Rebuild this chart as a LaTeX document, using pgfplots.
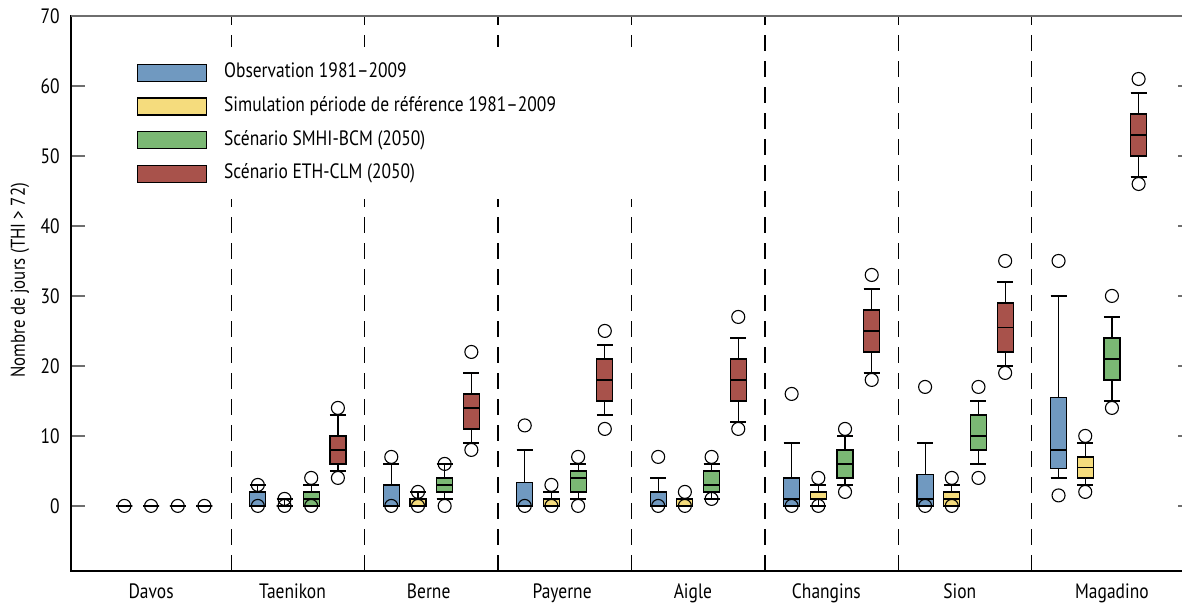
\documentclass[border=0pt]{standalone}
\usepackage{fontspec}
\setmainfont[FakeStretch=0.84]{PT Sans}
\usepackage{pgfplots}
\pgfplotsset{compat=1.18}
\usepgfplotslibrary{statistics}
\definecolor{obsc}{HTML}{7099C0}
\definecolor{simc}{HTML}{F5DC7D}
\definecolor{smhc}{HTML}{7BB874}
\definecolor{ethc}{HTML}{A8524B}
\definecolor{topc}{HTML}{6E6E6E}
\newcommand\myfont{\fontsize{10.4pt}{12pt}\selectfont}
\newcommand\bx[7]{\addplot[forget plot, fill=#1, draw=black, line width=0.6pt,
  boxplot/draw direction=y,
  boxplot prepared={draw position=#2, lower whisker=#3, lower quartile=#4, median=#5,
  upper quartile=#6, upper whisker=#7, box extend=0.6, whisker extend=0.6}] coordinates {};}
\begin{document}
\begin{tikzpicture}
\begin{axis}[name=ax, scale only axis, width=560.5pt, height=277.5pt,
  xmin=-2, xmax=40, ymin=-9.3, ymax=70,
  ytick={0,10,...,70}, ytick pos=both, tick align=inside, major tick length=7pt,
  tick style={line width=0.6pt, color=topc},
  xtick={1,6.3,11.4,16.4,21.3,26.3,31.3,37},
  xticklabels={Davos,Taenikon,Berne,Payerne,Aigle,Changins,Sion,Magadino},
  xtick style={draw=none},
  xticklabel style={anchor=base, yshift=-14pt},
  yticklabel style={anchor=east, inner sep=0pt, xshift=-5.5pt},
  /pgf/number format/assume math mode=true,
  tick label style={font=\myfont}, label style={font=\myfont},
  ylabel={Nombre de jours (THI > 72)},
  every axis y label/.style={at={(axis description cs:-0.0455,0.524)}, rotate=90, anchor=center},
  axis line style={line width=0.6pt},
  legend image code/.code={\draw[#1, line width=0.6pt] (0pt,-4.25pt) rectangle (34.5pt,4.25pt);},
  legend cell align=left,
  legend style={at={(axis cs:0.47,63.3)}, anchor=north west, draw=none, fill=none,
    inner sep=0pt, outer sep=0pt, font=\myfont, row sep=6.85pt,
    nodes={inner sep=0pt, text height=7.5pt, text depth=2.5pt},
    /tikz/every odd column/.append style={column sep=8.5pt}},
]
\pgfplotsinvokeforeach{4,9,14,19,24,29,34}{
  \draw[dash pattern=on 8pt off 5pt, line width=0.6pt] (axis cs:#1,-9.3) -- (axis cs:#1,70);
}
\fill[white] (axis cs:-0.2,43.9) rectangle (axis cs:19.6,65.6);
\draw[line width=0.9pt, topc] (axis cs:-2,70) -- (axis cs:40,70);

\addlegendimage{fill=obsc, draw=black}
\addlegendentry{Observation 1981–2009}
\addlegendimage{fill=simc, draw=black}
\addlegendentry{Simulation période de référence 1981–2009}
\addlegendimage{fill=smhc, draw=black}
\addlegendentry{Scénario SMHI-BCM (2050)}
\addlegendimage{fill=ethc, draw=black}
\addlegendentry{Scénario ETH-CLM (2050)}

% outlier circles
\addplot[forget plot, only marks, mark=o, mark size=3.25pt, black, mark options={line width=0.55pt}] coordinates {
 (0,0) (1,0) (2,0) (3,0)
 (5,0) (5,3) (6,0) (6,1) (7,0) (7,4) (8,4) (8,14)
 (10,0) (10,7) (11,0) (11,2) (12,0) (12,6) (13,8) (13,22)
 (15,0) (15,11.5) (16,0) (16,3) (17,0) (17,7) (18,11) (18,25)
 (20,0) (20,7) (21,0) (21,2) (22,1) (22,7) (23,11) (23,27)
 (25,0) (25,16) (26,0) (26,4) (27,2) (27,11) (28,18) (28,33)
 (30,0) (30,17) (31,0) (31,4) (32,4) (32,17) (33,19) (33,35)
 (35,1.5) (35,35) (36,2) (36,10) (37,14) (37,30) (38,46) (38,61)
};

% Davos
\bx{obsc}{0}{0}{0}{0}{0}{0}
\bx{simc}{1}{0}{0}{0}{0}{0}
\bx{smhc}{2}{0}{0}{0}{0}{0}
\bx{ethc}{3}{0}{0}{0}{0}{0}
% Taenikon
\bx{obsc}{5}{0}{0}{0}{2}{3}
\bx{simc}{6}{0}{0}{0}{0}{1}
\bx{smhc}{7}{0}{0}{1}{2}{3}
\bx{ethc}{8}{5}{6}{8}{10}{13}
% Berne
\bx{obsc}{10}{0}{0}{0}{3}{6}
\bx{simc}{11}{0}{0}{0}{1}{2}
\bx{smhc}{12}{1}{2}{3}{4}{6}
\bx{ethc}{13}{9}{11}{14}{16}{19}
% Payerne
\bx{obsc}{15}{0}{0}{0}{3.4}{8}
\bx{simc}{16}{0}{0}{0}{1}{2}
\bx{smhc}{17}{1}{2}{4}{5}{6}
\bx{ethc}{18}{13}{15}{18}{21}{23}
% Aigle
\bx{obsc}{20}{0}{0}{0}{2}{4}
\bx{simc}{21}{0}{0}{0}{1}{1}
\bx{smhc}{22}{1}{2}{3}{5}{6}
\bx{ethc}{23}{12}{15}{18}{21}{24}
% Changins
\bx{obsc}{25}{0}{0}{1}{4}{9}
\bx{simc}{26}{0}{1}{1}{2}{3}
\bx{smhc}{27}{3}{4}{6}{8}{10}
\bx{ethc}{28}{19}{22}{25}{28}{31}
% Sion
\bx{obsc}{30}{0}{0}{1}{4.5}{9}
\bx{simc}{31}{0}{0}{1}{2}{3}
\bx{smhc}{32}{6}{8}{10}{13}{15}
\bx{ethc}{33}{20}{22}{25.5}{29}{32}
% Magadino
\bx{obsc}{35}{4}{5.4}{8}{15.5}{30}
\bx{simc}{36}{3}{4}{5.5}{7}{9}
\bx{smhc}{37}{15}{18}{21}{24}{27}
\bx{ethc}{38}{47}{50}{53}{56}{59}
\end{axis}
\pgfresetboundingbox
\path[use as bounding box] ([xshift=-35.5pt,yshift=-16pt]ax.south west) rectangle ([xshift=555.5pt,yshift=285.5pt]ax.south west);
\end{tikzpicture}
\end{document}
